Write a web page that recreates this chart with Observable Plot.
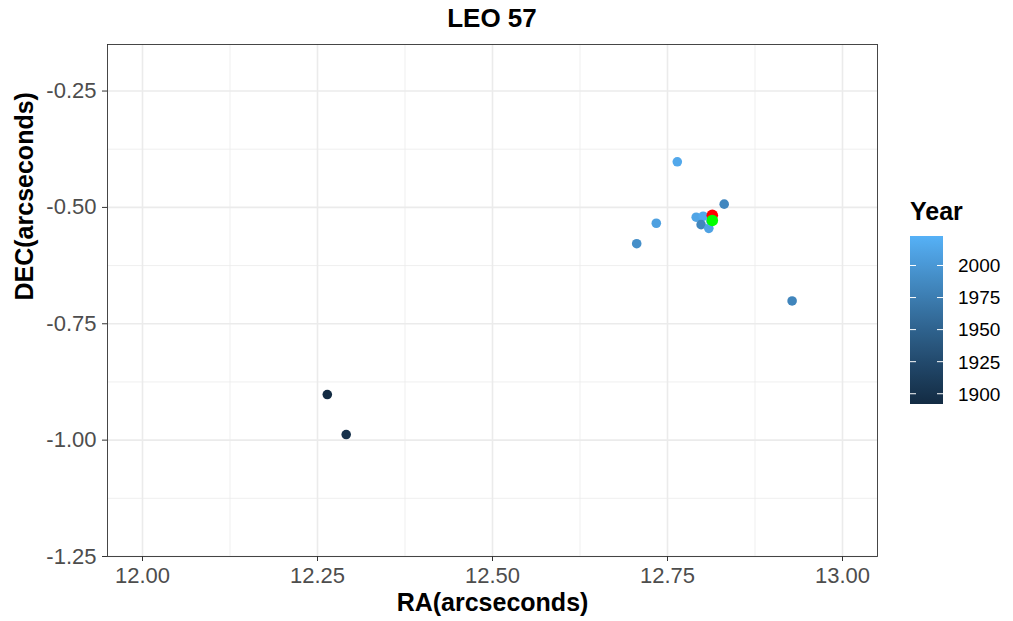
<!DOCTYPE html>
<html>
<head>
<meta charset="utf-8">
<script src="https://cdn.jsdelivr.net/npm/d3@7"></script>
<script src="https://cdn.jsdelivr.net/npm/@observablehq/plot@0.6"></script>
<style>
  html, body { margin: 0; padding: 0; background: #fff; }
  #wrap { position: relative; width: 1013px; height: 621px; font-family: "Liberation Sans", Arial, sans-serif; }
  #legend { position: absolute; left: 0; top: 0; }
</style>
</head>
<body>
<div id="wrap">
  <div id="chart"></div>
  <svg id="legend" width="1013" height="621"></svg>
</div>
<script>
// Observations
const ra   = [12.264, 12.291, 12.764, 12.831, 12.734, 12.706, 12.791, 12.801, 12.798, 12.809, 12.928, 12.812];
const dec  = [-0.902, -0.988, -0.402, -0.493, -0.534, -0.578, -0.521, -0.519, -0.537, -0.545, -0.701, -0.530];
const year = [1892, 1899, 2015, 1985, 2008, 1992, 2012, 2016, 1984, 2010, 1983, 2023];

// Highlighted positions
const redRA = [12.814], redDEC = [-0.517];
const greenRA = [12.814], greenDEC = [-0.528];

const xTicks = [12.00, 12.25, 12.50, 12.75, 13.00];
const xMinor = [12.125, 12.375, 12.625, 12.875];
const yTicks = [-0.25, -0.50, -0.75, -1.00, -1.25];
const yMinor = [-0.375, -0.625, -0.875, -1.125];
const legendTicks = [1900, 1925, 1950, 1975, 2000];
const yearDomain = [1892, 2023];
const colorRange = ["#132B43", "#56B1F7"];

const obs = ra.map((r, i) => ({ra: r, dec: dec[i], year: year[i]}));
const red = redRA.map((r, i) => ({ra: r, dec: redDEC[i]}));
const green = greenRA.map((r, i) => ({ra: r, dec: greenDEC[i]}));

const fmt = d => d.toFixed(2);
const FONT = "Liberation Sans, Arial, sans-serif";

const plot = Plot.plot({
  width: 1013,
  height: 621,
  marginLeft: 107,
  marginRight: 136,
  marginTop: 44,
  marginBottom: 65,
  style: {fontFamily: FONT, fontSize: "22px", background: "#fff"},
  x: {domain: [11.95, 13.05]},
  y: {domain: [-1.25, -0.15]},
  color: {type: "linear", domain: yearDomain, range: colorRange, interpolate: "lab"},
  marks: [
    Plot.gridX(xMinor, {stroke: "#EBEBEB", strokeOpacity: 1, strokeWidth: 0.8}),
    Plot.gridY(yMinor, {stroke: "#EBEBEB", strokeOpacity: 1, strokeWidth: 0.8}),
    Plot.gridX(xTicks, {stroke: "#EBEBEB", strokeOpacity: 1, strokeWidth: 1.6}),
    Plot.gridY(yTicks, {stroke: "#EBEBEB", strokeOpacity: 1, strokeWidth: 1.6}),
    Plot.axisX(xTicks, {tickFormat: fmt, tickSize: 5, tickPadding: 6, stroke: "#333", fill: "#4D4D4D", label: null, fontSize: 22}),
    Plot.axisY(yTicks, {tickFormat: fmt, tickSize: 5, tickPadding: 6, stroke: "#333", fill: "#4D4D4D", label: null, fontSize: 22}),
    Plot.dot(obs, {x: "ra", y: "dec", fill: "year", r: 4.8, stroke: null}),
    Plot.dot(red, {x: "ra", y: "dec", fill: "#FF0000", r: 5.8}),
    Plot.dot(green, {x: "ra", y: "dec", fill: "#00FF00", r: 5.8}),
    Plot.frame({stroke: "#333", strokeWidth: 0.9}),
    Plot.text(["RA(arcseconds)"], {frameAnchor: "bottom", lineAnchor: "middle", dy: 46, fontSize: 25, fontWeight: "bold", fill: "#000"}),
    Plot.text(["DEC(arcseconds)"], {frameAnchor: "left", dx: -83, rotate: -90, fontSize: 25, fontWeight: "bold", fill: "#000"})
  ]
});
document.getElementById("chart").appendChild(plot);

// Title and legend (vertical colorbar)
const svg = d3.select("#legend");
svg.append("text").attr("x", 492).attr("y", 27).attr("text-anchor", "middle")
  .attr("font-size", 26).attr("font-weight", "bold").attr("font-family", FONT).text("LEO 57");

const bx = 910, bw = 33, by0 = 236, by1 = 404;
const ly = d3.scaleLinear().domain(yearDomain).range([by1, by0]);
const colorScale = plot.scale("color");
const defs = svg.append("defs");
const grad = defs.append("linearGradient").attr("id", "yg").attr("x1", 0).attr("y1", 1).attr("x2", 0).attr("y2", 0);
d3.range(0, 1.0001, 0.05).forEach(t => {
  const yr = yearDomain[0] + t * (yearDomain[1] - yearDomain[0]);
  grad.append("stop").attr("offset", t).attr("stop-color", colorScale.apply(yr));
});
svg.append("text").attr("x", bx).attr("y", 220).attr("font-size", 25).attr("font-weight", "bold")
  .attr("font-family", FONT).text("Year");
svg.append("rect").attr("x", bx).attr("y", by0).attr("width", bw).attr("height", by1 - by0).attr("fill", "url(#yg)");
legendTicks.forEach(t => {
  const y = ly(t);
  svg.append("line").attr("x1", bx).attr("x2", bx + 6).attr("y1", y).attr("y2", y).attr("stroke", "#fff").attr("stroke-width", 1);
  svg.append("line").attr("x1", bx + bw - 6).attr("x2", bx + bw).attr("y1", y).attr("y2", y).attr("stroke", "#fff").attr("stroke-width", 1);
  svg.append("text").attr("x", 958).attr("y", y).attr("dy", "0.36em").attr("font-size", 19)
    .attr("font-family", FONT).attr("fill", "#000").text(t);
});
</script>
</body>
</html>
